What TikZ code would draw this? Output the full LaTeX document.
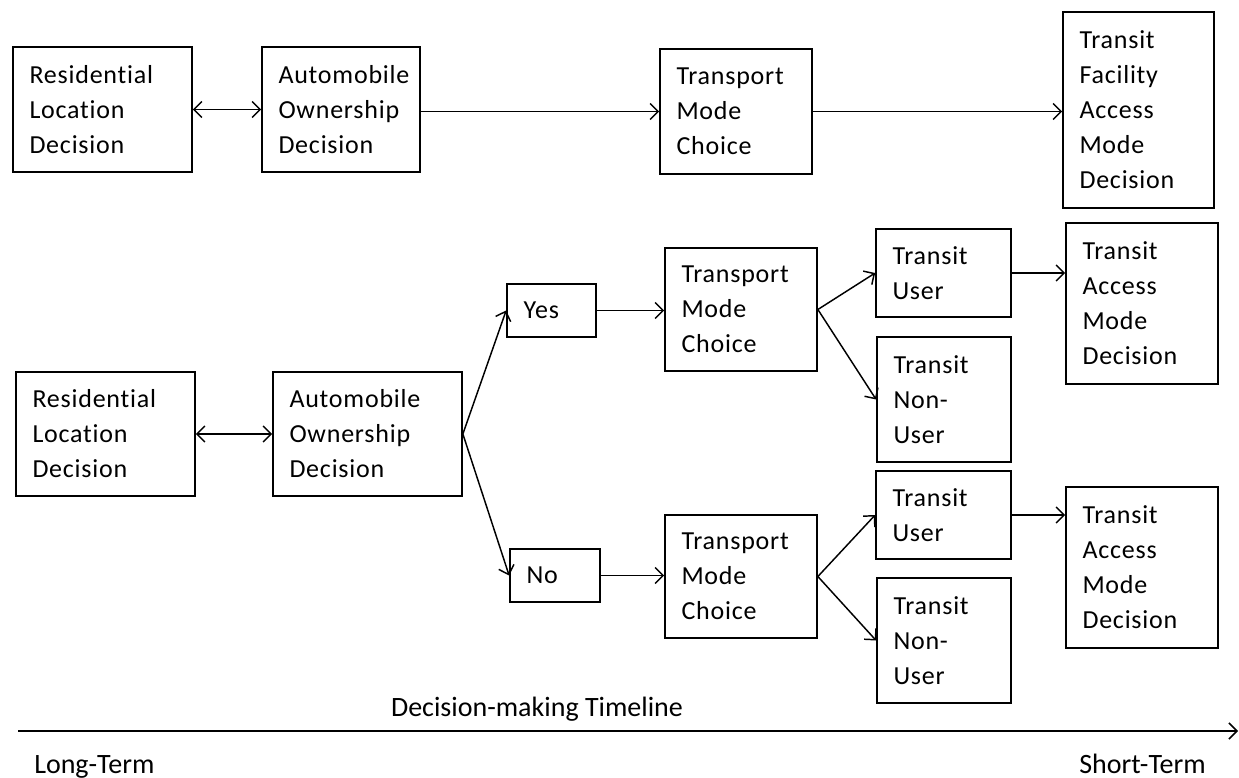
\documentclass[tikz,border=0pt]{standalone}
\usepackage{fontspec}
\setmainfont{Carlito}[Ligatures=NoCommon]
\newfontfamily\boxfont{Carlito}[LetterSpace=3,Ligatures=NoCommon]
\usetikzlibrary{arrows.meta}

% box from (x1,y1) to (x2,y2) in pixel units, text left-aligned with fixed padding
\newcommand\dbox[6]{%
  \pgfmathsetmacro\bw{(#4-#2)*0.75}%
  \pgfmathsetmacro\bh{(#5-#3)*0.75}%
  \pgfmathsetmacro\tw{(#4-#2-33)*0.75}%
  \node[box, minimum width=\bw pt, minimum height=\bh pt, text width=\tw pt]
    (#1) at ({(#2+#4)/2},{(#3+#5)/2}) {#6};}

\begin{document}
\begin{tikzpicture}[x=0.75pt, y=-0.75pt,
  box/.style={draw, line width=1.3pt, inner sep=0pt, align=left,
    font={\boxfont\fontsize{19.5}{26.25}\selectfont\hyphenpenalty=10000\exhyphenpenalty=10000}},
  conn/.style={line width=1.1pt, -{Straight Barb[length=6pt,width=12pt,line width=1.1pt]}},
  biconn/.style={line width=1.1pt, {Straight Barb[length=6pt,width=12pt,line width=1.1pt]}-{Straight Barb[length=6pt,width=12pt,line width=1.1pt]}},
  lbl/.style={inner sep=0pt, font={\fontsize{21}{24}\selectfont}}]
\useasboundingbox (0,0) rectangle (1239,778);

% upper chain
\dbox{A1}{13}{47}{192}{172}{Residential\\Location\\Decision}
\dbox{A2}{262}{47}{420}{172}{Automobile\\Ownership\\Decision}
\dbox{A3}{660}{49}{812}{174}{Transport\\Mode\\Choice}
\dbox{A4}{1063}{12}{1214}{208}{Transit\\Facility\\Access\\Mode\\Decision}

\draw[biconn] (A1.east) -- (A2.west);
\draw[conn] (A2.east |- A3.west) -- (A3.west);
\draw[conn] (A3.east) -- (A3.east -| A4.west);

% lower decision tree
\dbox{B1}{16}{372}{195}{496}{Residential\\Location\\Decision}
\dbox{B2}{273}{372}{462}{496}{Automobile\\Ownership\\Decision}
\dbox{Y}{507}{284}{596}{337}{Yes}
\dbox{N}{510}{549}{600}{602}{No}
\dbox{T1}{665}{248}{817}{371}{Transport\\Mode\\Choice}
\dbox{T2}{665}{515}{817}{638}{Transport\\Mode\\Choice}
\dbox{U1}{876}{229}{1011}{317}{Transit\\User}
\dbox{N1}{877}{337}{1011}{462}{Transit\\Non-\\User}
\dbox{U2}{876}{471}{1011}{559}{Transit\\User}
\dbox{N2}{877}{578}{1011}{703}{Transit\\Non-\\User}
\dbox{M1}{1066}{223}{1218}{384}{Transit\\Access\\Mode\\Decision}
\dbox{M2}{1066}{487}{1218}{648}{Transit\\Access\\Mode\\Decision}

\draw[biconn] (B1.east) -- (B2.west);
\draw[conn] (B2.east) -- (Y.west);
\draw[conn] (B2.east) -- (N.west);
\draw[conn] (Y.east) -- (Y.east -| T1.west);
\draw[conn] (N.east) -- (N.east -| T2.west);
\draw[conn] (T1.east) -- (U1.west);
\draw[conn] (T1.east) -- (N1.west);
\draw[conn] (T2.east) -- (U2.west);
\draw[conn] (T2.east) -- (N2.west);
\draw[conn] (U1.east) -- (U1.east -| M1.west);
\draw[conn] (U2.east) -- (U2.east -| M2.west);

% timeline
\coordinate (tl0) at (18,731);
\coordinate (tl1) at (1238,731);
\draw[conn, line width=1.4pt] (tl0) -- (tl1);
\node[lbl, anchor=base] (tlt) at (537,716) {Decision-making Timeline};
\node[lbl, anchor=base west] (lt) at (34,773) {Long-Term};
\node[lbl, anchor=base east] (st) at (1206,773) {Short-Term};
\end{tikzpicture}
\end{document}
